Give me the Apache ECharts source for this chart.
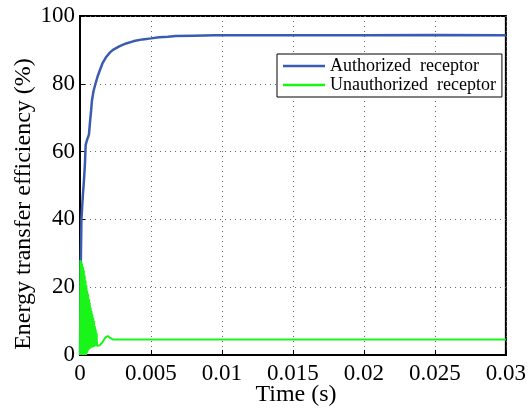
<!DOCTYPE html>
<html>
<head>
<meta charset="utf-8">
<script src="https://cdn.jsdelivr.net/npm/echarts@6/dist/echarts.min.js"></script>
<style>html,body{margin:0;padding:0;background:#fff}#c{width:529px;height:411px}</style>
</head>
<body>
<div id="c"></div>
<script>
// Time (s) and efficiency (%)
const authT = [0, 0.00005, 0.0001, 0.0002, 0.00028, 0.00035, 0.0004, 0.0005, 0.00063, 0.0007, 0.00078, 0.00084, 0.00095, 0.00111, 0.00125, 0.0014, 0.0016, 0.00186, 0.0021, 0.00232, 0.0028, 0.00325, 0.0038, 0.00441, 0.005, 0.00557, 0.0062, 0.00674, 0.008, 0.0095, 0.0125, 0.02, 0.025, 0.03];
const authV = [0, 25, 40, 47, 51.6, 56.6, 62, 63.5, 65, 68.5, 72, 75, 77.8, 80.3, 82.3, 84, 86.2, 88, 89.2, 90, 91.1, 91.9, 92.6, 93.1, 93.4, 93.7, 93.9, 94.1, 94.2, 94.3, 94.3, 94.3, 94.4, 94.3];

const unauthT = [0, 0.00003, 0.00006, 0.00009, 0.00012, 0.00015, 0.00018, 0.00021, 0.00024, 0.00027, 0.0003,
  0.00033, 0.00036, 0.00039, 0.00042, 0.00045, 0.00048, 0.00051, 0.00054, 0.00057, 0.0006,
  0.00063, 0.00066, 0.00069, 0.00072, 0.00075, 0.00078, 0.00081, 0.00084, 0.00087, 0.0009,
  0.00093, 0.00096, 0.00099, 0.00102, 0.00105, 0.00108, 0.00111, 0.00114, 0.00117, 0.0012,
  0.00125, 0.0014, 0.0016, 0.0018, 0.00195, 0.0021, 0.0023, 0.03];
const unauthV = [0, 28, 0, 27.5, 0, 27, 0, 26, 0, 25, 0,
  23.5, 0, 22, 0, 20.5, 0.5, 19, 1, 18, 1.5,
  16.5, 1.8, 15.5, 2, 14, 2.1, 13, 2.2, 12, 2.3,
  11, 2.4, 10, 2.5, 8.5, 2.6, 7.5, 2.6, 6.5, 2.7,
  2.5, 2.9, 3.9, 5.2, 5.6, 5.1, 4.6, 4.6];

const xTickLabels = ['0', '0.005', '0.01', '0.015', '0.02', '0.025', '0.03'];
const yTickLabels = ['0', '20', '40', '60', '80', '100'];
const seriesNames = ['Authorized  receptor', 'Unauthorized  receptor'];

const FONT = 'Liberation Serif';
const chart = echarts.init(document.getElementById('c'), null, {renderer: 'canvas'});
chart.setOption({
  animation: false,
  backgroundColor: '#fff',
  grid: {left: 80, top: 16, right: 18, bottom: 56, show: true, borderColor: '#000', borderWidth: 2, backgroundColor: '#fff'},
  legend: {
    left: 277, top: 54, orient: 'vertical', itemWidth: 42, itemHeight: 2.5, itemGap: 1,
    padding: [3, 6, 3, 6], borderColor: '#000', borderWidth: 1, backgroundColor: '#fff',
    textStyle: {fontFamily: FONT, fontSize: 18, color: '#000', lineHeight: 18},
    data: seriesNames.map(n => ({name: n, icon: 'rect'}))
  },
  xAxis: {
    type: 'value', min: 0, max: 0.03, interval: 0.005,
    axisLine: {lineStyle: {color: '#000', width: 2}},
    axisTick: {inside: true, length: 5, lineStyle: {color: '#000'}},
    axisLabel: {fontFamily: FONT, fontSize: 23, color: '#000', margin: 7, showMaxLabel: true,
      formatter: v => xTickLabels[Math.round(v / 0.005)]},
    splitLine: {show: true, lineStyle: {color: '#666', type: [1, 4], width: 1}}
  },
  yAxis: {
    type: 'value', min: 0, max: 100, interval: 20,
    axisLine: {lineStyle: {color: '#000', width: 2}},
    axisTick: {inside: true, length: 5, lineStyle: {color: '#000'}},
    axisLabel: {fontFamily: FONT, fontSize: 23, color: '#000', margin: 5,
      formatter: v => yTickLabels[Math.round(v / 20)]},
    splitLine: {show: true, lineStyle: {color: '#666', type: [1, 4], width: 1}}
  },
  graphic: [
    {type: 'text', x: 296, y: 395, style: {text: 'Time (s)', font: '24px "Liberation Serif"', fill: '#000', textAlign: 'center', textVerticalAlign: 'middle'}},
    {type: 'text', x: 24, y: 204, rotation: Math.PI / 2, style: {text: 'Energy transfer efficiency (%)', font: '24px "Liberation Serif"', fill: '#000', textAlign: 'center', textVerticalAlign: 'middle'}}
  ],
  series: [
    {name: seriesNames[0], type: 'line', showSymbol: false, data: authT.map((t, i) => [t, authV[i]]),
      lineStyle: {color: '#3a5bb0', width: 2.5}, itemStyle: {color: '#3a5bb0'}, z: 2},
    {name: seriesNames[1], type: 'line', showSymbol: false, data: unauthT.map((t, i) => [t, unauthV[i]]),
      lineStyle: {color: '#19f519', width: 2}, itemStyle: {color: '#19f519'}, z: 3}
  ]
});
</script>
</body>
</html>
